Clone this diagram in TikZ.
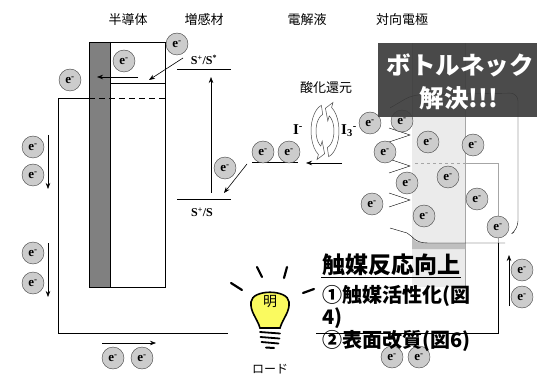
\documentclass[tikz,border=0pt]{standalone}
\usepackage{fontspec}
\setmainfont{Liberation Serif}
\newfontfamily\jp{Noto Sans CJK JP}
\usetikzlibrary{arrows.meta,positioning,calc}
\definecolor{bulbyellow}{RGB}{250,250,95}
\definecolor{boxgray}{RGB}{60,60,60}

\begin{document}
\begin{tikzpicture}[
  x=1pt, y=-1pt,
  elec/.style={
    circle, draw=black!75, fill=black!20,
    minimum size=22pt, inner sep=0pt,
    font=\bfseries\fontsize{13}{13}\selectfont
  },
  hdr/.style={font=\jp\fontsize{13}{13}\selectfont},
  lvl/.style={line width=1pt},
  lnk/.style={-{Stealth[length=6pt,width=4.5pt]}, semithick},
  redox/.style={draw=black!70, fill=white, line width=0.5pt},
  ray/.style={line width=2.2pt, line cap=round},
  note/.style={font=\jp\bfseries\fontsize{20}{20}\selectfont, anchor=west, inner sep=1pt},
]
\useasboundingbox (0,0) rectangle (537,379);

%% column titles
\node[hdr] (tsc)  at (128,20) {半導体};
\node[hdr] (tdye) at (204,20) {増感材};
\node[hdr] (tel)  at (307,20) {電解液};
\node[hdr] (tce)  at (402,20) {対向電極};

%% counter electrode body
\fill[black!8] (412,43) rectangle (465,287);
\draw[black!30] (412,43) -- (412,117);
\draw[black!35] (465,43) -- (465,287);
\fill[black!25] (412,235) .. controls (414,242) .. (428,243) -- (465,243)
  -- (465,249) -- (412,249) -- cycle;
\draw[black!35, dashed] (415,163) -- (465,163);
\draw[black!35] (465,163) -- (498,163) -- (498,243);

%% electrode surface
\draw[rounded corners=8pt] (390,108) -- (412,95) -- (518,93) -- (518,229) -- (514,232);
\foreach \y in {135,166,200}
  \draw (389,\y-7) -- (410,\y) -- (389,\y+7);
\draw (390,228) -- (407,233) .. controls (413,236) and (414,243) .. (428,243) -- (505,243);

%% semiconductor
\fill[black!50] (89,42) rectangle (110,287);
\draw (89,42) rectangle (165,287);
\draw (110,42) -- (110,287);
\draw (110,83) -- (165,83);
\draw[dashed, dash pattern=on 6pt off 4pt] (89,98) -- (165,98);

%% external circuit
\draw (89,98) -- (58,98) -- (58,333) -- (228,333);
\draw (316,333) -- (498,333) -- (498,243);

%% dye and electrolyte levels
\coordinate (sexL) at (177,70);  \coordinate (sexR) at (231,70);
\coordinate (sgrL) at (177,200); \coordinate (sgrR) at (231,200);
\coordinate (elL)  at (252,163); \coordinate (elR)  at (298,163);
\draw[lvl] (sexL) -- (sexR);
\draw[lvl] (sgrL) -- (sgrR);
\draw[lvl] (elL) -- (elR);
\node[font=\bfseries\fontsize{12}{12}\selectfont] (lsex) at (204,60)
  {S\textsuperscript{+}/S\textsuperscript{*}};
\node[font=\bfseries\fontsize{12}{12}\selectfont] (lsgr) at (202,212)
  {S\textsuperscript{+}/S};

%% electron flow
\draw[lnk] (183,58) -- (149,80);
\draw[lnk] (138,77) -- (97,77);
\draw[lnk] ($(sgrL)!0.63!(sgrR)+(0,-7)$) -- ($(sexL)!0.63!(sexR)+(0,7)$);
\draw[lnk] (247,164) -- (224,193);
\draw[lnk] (342,163) -- (306,163);
\draw[lnk] (48,135) -- (48,189);
\draw[lnk] (48,243) -- (48,297);
\draw[lnk] (102,343) -- (156,343);
\draw[lnk] (509,306) -- (509,255);

%% redox couple
\node[font=\jp\fontsize{13}{13}\selectfont] (ox) at (326,88) {酸化還元};
\node[font=\bfseries\fontsize{15}{15}\selectfont] (iod) at (298,130) {I\textsuperscript{-}};
\node[font=\bfseries\fontsize{15}{15}\selectfont] (tri) at (349,131) {I\textsubscript{3}\textsuperscript{-}};
\begin{scope}[shift={(325,131)}, yscale=1.9]
  \draw[redox] (255:14) arc[start angle=255, end angle=118, radius=14]
    -- (118:17) -- (92:12) -- (118:6) -- (118:9)
    arc[start angle=118, end angle=255, radius=9] -- cycle;
  \draw[redox] (75:14) arc[start angle=75, end angle=-62, radius=14]
    -- (-62:17) -- (-88:12) -- (-62:6) -- (-62:9)
    arc[start angle=-62, end angle=75, radius=9] -- cycle;
\end{scope}

%% electrons
\foreach \p [count=\i] in {(177,44),(124,61),(70,80),(33,147),(33,175),
    (33,253),(33,283),(113,358),(142,358),(225,168),(263,152),(289,152),
    (370,123),(402,121),(428,142),(473,145),(385,152),(448,177),(407,183),
    (372,204),(477,199),(424,216),(498,227),(522,270),(522,297),
    (392,357),(419,357)}
  \node[elec] (e\i) at \p {e\textsuperscript{-}};

%% load
\draw[ray] (257,267) -- (262,277);
\draw[ray] (287,267) -- (284,278);
\draw[ray] (231,283) -- (242,290);
\draw[ray] (303,293) -- (314,289);
\draw[line width=1.6pt, fill=bulbyellow]
  (260,328) .. controls (257,318) and (250,312) .. (251,302)
  .. controls (252,289) and (288,289) .. (289,302)
  .. controls (290,312) and (283,318) .. (280,328) -- cycle;
\foreach \y/\w in {332/10, 337/9.5, 342/8.5}
  \draw[line width=1.8pt, line cap=round] (270-\w,\y) -- (270+\w,\y+1.5);
\draw[line width=2pt, line cap=round] (266,347.5) -- (274,348);
\node[font=\jp\fontsize{14}{14}\selectfont] (bulb) at (270,302) {明};
\node[font=\jp\fontsize{12}{12}\selectfont] (load) at (270,369) {ロード};

%% highlight box
\fill[boxgray, opacity=0.92] (378,43) rectangle (537,117);
\node[font=\jp\bfseries\fontsize{24.5}{24.5}\selectfont, text=white] (bn) at (460,65) {ボトルネック};
\node[font=\jp\bfseries\fontsize{24.5}{24.5}\selectfont, text=white] (bs) at (459,98) {解決!!!};

%% catalyst notes
\node[note, font=\jp\bfseries\fontsize{23}{23}\selectfont] (cat) at (321,265) {触媒反応向上};
\draw[line width=1pt] (cat.south west) -- (cat.south east);
\node[note] (c1) at (321,296) {①触媒活性化(図};
\node[note] (c2) at (321,318) {4)};
\node[note] (c3) at (321,341) {②表面改質(図6)};
\end{tikzpicture}
\end{document}
